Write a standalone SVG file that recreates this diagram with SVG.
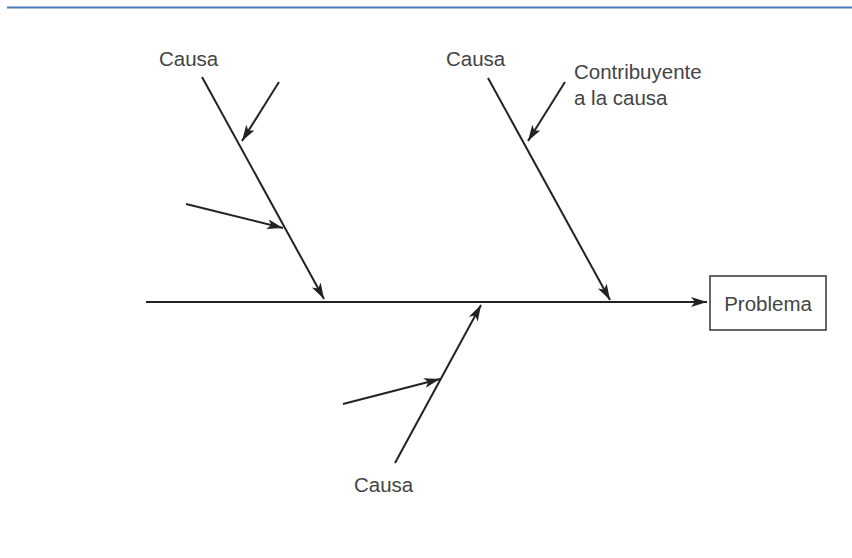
<svg xmlns="http://www.w3.org/2000/svg" width="852" height="558" viewBox="0 0 852 558">
<style>
.t{font-family:"Liberation Sans",Arial,sans-serif;font-size:20.5px;fill:#444}
.c line{stroke:#222;stroke-width:2;fill:none}
.arr{marker-end:url(#ah)}
</style>
<defs>
<marker id="ah" markerUnits="userSpaceOnUse" markerWidth="18" markerHeight="12" refX="16" refY="5" orient="auto">
<path d="M0,0 L16,5 L0,10 L4,5 Z" fill="#222"/>
</marker>
</defs>
<rect width="852" height="558" fill="#fff"/>
<line x1="7" y1="7.5" x2="852" y2="7.5" stroke="#4a78b5" stroke-width="2"/>
<g class="c" id="connectors">
<line class="arr" x1="146" y1="302" x2="707" y2="302"/>
<line class="arr" x1="202" y1="77" x2="324" y2="299"/>
<line class="arr" x1="279" y1="82" x2="242" y2="141"/>
<line class="arr" x1="186" y1="204" x2="283" y2="228"/>
<line class="arr" x1="488" y1="78" x2="610" y2="300"/>
<line class="arr" x1="565" y1="82" x2="528" y2="141"/>
<line class="arr" x1="395" y1="463" x2="481" y2="305"/>
<line class="arr" x1="343" y1="404" x2="440" y2="379"/>
</g>
<g id="problema">
<rect x="710" y="276" width="116" height="54" fill="#fff" stroke="#333" stroke-width="1.5"/>
<text class="t" x="768" y="311" text-anchor="middle">Problema</text>
</g>
<g id="causa1"><text class="t" x="159" y="66">Causa</text></g>
<g id="causa2"><text class="t" x="446" y="66">Causa</text></g>
<g id="contrib"><text class="t" x="574" y="79">Contribuyente</text><text class="t" x="574" y="105">a la causa</text></g>
<g id="causa3"><text class="t" x="354" y="492">Causa</text></g>
</svg>
